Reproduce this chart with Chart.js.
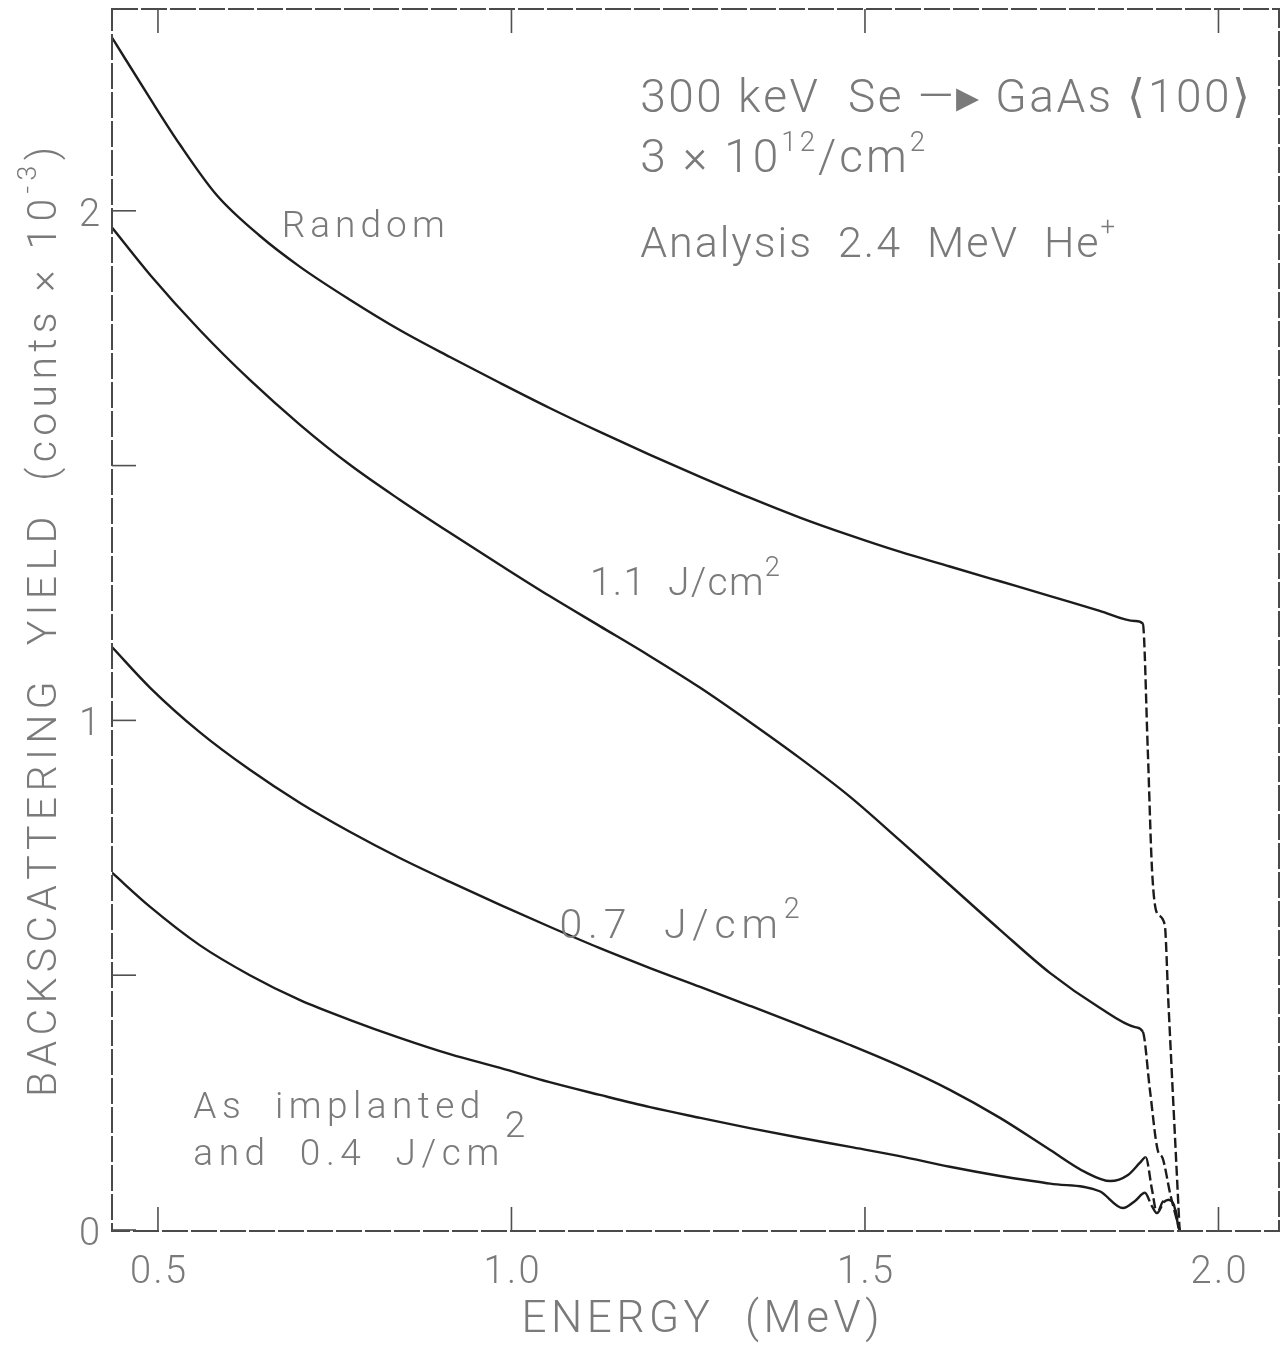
<!DOCTYPE html>
<html>
<head>
<meta charset="utf-8">
<script src="https://cdn.jsdelivr.net/npm/chart.js@4.4.0/dist/chart.umd.min.js"></script>
<style>
  html, body { margin: 0; padding: 0; background: #fff; }
  #wrap { width: 1288px; height: 1345px; position: relative; }
</style>
</head>
<body>
<div id="wrap"><canvas id="chart"></canvas></div>
<script>
// energies in MeV, yields in counts x 10^-3
const randomEnergy = [0.435, 0.489, 0.531, 0.583, 0.644, 0.701, 0.772, 0.842, 0.913, 0.984, 1.054, 1.125, 1.196, 1.267, 1.337, 1.408, 1.479, 1.549, 1.620, 1.691, 1.762, 1.832, 1.882, 1.893, 1.900, 1.906, 1.913, 1.924, 1.929, 1.945];
const randomYield  = [2.340, 2.220, 2.130, 2.031, 1.951, 1.890, 1.825, 1.766, 1.713, 1.662, 1.613, 1.566, 1.521, 1.478, 1.437, 1.398, 1.363, 1.331, 1.302, 1.273, 1.244, 1.215, 1.195, 1.190, 0.942, 0.707, 0.622, 0.599, 0.451, 0.0];

const j11Energy = [0.435, 0.489, 0.559, 0.630, 0.701, 0.772, 0.842, 0.913, 0.984, 1.054, 1.125, 1.196, 1.267, 1.337, 1.408, 1.479, 1.549, 1.620, 1.691, 1.762, 1.832, 1.882, 1.893, 1.903, 1.914, 1.921, 1.932, 1.945];
const j11Yield  = [1.967, 1.874, 1.766, 1.668, 1.580, 1.501, 1.433, 1.368, 1.305, 1.244, 1.185, 1.126, 1.064, 0.997, 0.926, 0.850, 0.765, 0.677, 0.589, 0.504, 0.436, 0.398, 0.389, 0.275, 0.157, 0.141, 0.069, 0.0];

const j07Energy = [0.435, 0.489, 0.559, 0.630, 0.701, 0.772, 0.842, 0.913, 0.984, 1.054, 1.125, 1.196, 1.267, 1.337, 1.408, 1.479, 1.549, 1.620, 1.691, 1.762, 1.811, 1.847, 1.872, 1.889, 1.897, 1.906, 1.913, 1.923, 1.930, 1.937, 1.944];
const j07Yield  = [1.144, 1.064, 0.977, 0.903, 0.838, 0.781, 0.730, 0.683, 0.638, 0.595, 0.553, 0.514, 0.477, 0.440, 0.402, 0.363, 0.322, 0.275, 0.220, 0.157, 0.114, 0.096, 0.108, 0.132, 0.143, 0.079, 0.033, 0.055, 0.059, 0.049, 0.0];

const implEnergy = [0.435, 0.489, 0.559, 0.630, 0.701, 0.772, 0.842, 0.913, 0.984, 1.054, 1.125, 1.196, 1.267, 1.337, 1.408, 1.479, 1.549, 1.620, 1.691, 1.762, 1.832, 1.865, 1.882, 1.896, 1.905, 1.913, 1.921, 1.929, 1.937, 1.945];
const implYield  = [0.701, 0.634, 0.559, 0.500, 0.451, 0.412, 0.377, 0.345, 0.318, 0.290, 0.265, 0.241, 0.220, 0.200, 0.181, 0.163, 0.145, 0.124, 0.106, 0.091, 0.076, 0.043, 0.057, 0.073, 0.049, 0.033, 0.055, 0.059, 0.049, 0.0];

const xTicks = [0.5, 1.0, 1.5, 2.0];
const xTickLabels = ['0.5', '1.0', '1.5', '2.0'];
const yTicks = [0, 0.5, 1, 1.5, 2];
const yTickLabels = ['0', '', '1', '', '2'];

const FONT = "'Roboto', 'DejaVu Sans', sans-serif";
const INK = '#1c1c1c';
const TEXT = '#7a7a7a';

function pts(xs, ys) {
  return xs.map((x, i) => ({ x: x, y: ys[i] }));
}

// dashed from the given point onward (the faded edges in the scan)
function dashAfter(idx) {
  return { borderDash: c => (c.p0DataIndex >= idx ? [10, 4] : undefined) };
}

// draw text runs char by char, stretched to a width like the plotter lettering
function drawRuns(ctx, runs, x, y, size, width, align) {
  const chars = [];
  runs.forEach(r => {
    const s = size * (r.scale || 1);
    const rise = r.sup ? size * (r.rise || 0.45) : 0;
    for (const ch of r.t) chars.push({ ch, s, rise });
  });
  let natural = 0;
  chars.forEach(c => {
    ctx.font = `300 ${c.s}px ${FONT}`;
    c.w = ctx.measureText(c.ch).width;
    natural += c.w;
  });
  if (!width) width = natural;
  const gap = chars.length > 1 ? (width - natural) / (chars.length - 1) : 0;
  let cx = x;
  if (align === 'center') cx = x - width / 2;
  if (align === 'right') cx = x - width;
  chars.forEach(c => {
    ctx.font = `300 ${c.s}px ${FONT}`;
    ctx.fillText(c.ch, cx, y - c.rise);
    cx += c.w + gap;
  });
}

const notes = [
  { e: 1.182, v: 2.194, size: 46, w: 610, runs: [{ t: '300 keV  Se \u2014\u25B8 GaAs \u27E8100\u27E9' }] },
  { e: 1.182, v: 2.077, size: 46, w: 285, runs: [{ t: '3 \u00D7 10' }, { t: '12', sup: true, scale: 0.6, rise: 0.45 }, { t: '/cm' }, { t: '2', sup: true, scale: 0.6, rise: 0.45 }] },
  { e: 1.182, v: 1.910, size: 43, w: 475, runs: [{ t: 'Analysis  2.4  MeV  He' }, { t: '+', sup: true, scale: 0.6, rise: 0.5 }] },
  { e: 0.675, v: 1.949, size: 37, w: 163, runs: [{ t: 'Random' }] },
  { e: 1.111, v: 1.246, size: 39, w: 190, runs: [{ t: '1.1  J/cm' }, { t: '2', sup: true, scale: 0.7, rise: 0.5 }] },
  { e: 1.068, v: 0.572, size: 41, w: 240, runs: [{ t: '0.7  J/cm' }, { t: '2', sup: true, scale: 0.7, rise: 0.5 }] },
  { e: 0.550, v: 0.220, size: 37, w: 287, runs: [{ t: 'As  implanted' }] },
  { e: 0.550, v: 0.128, size: 37, w: 332, runs: [{ t: 'and  0.4  J/cm' }, { t: '2', sup: true, scale: 1.0, rise: 0.75 }] }
];

const paperPlugin = {
  id: 'paper',
  afterDraw(chart) {
    const ctx = chart.ctx;
    const xs = chart.scales.x, ys = chart.scales.y;
    const a = chart.chartArea;
    ctx.save();

    // frame
    ctx.strokeStyle = '#4a4a4a';
    ctx.lineWidth = 2;
    ctx.setLineDash([26, 3]);
    ctx.strokeRect(a.left, a.top, a.right - a.left, a.bottom - a.top);
    ctx.setLineDash([]);

    // inward ticks
    ctx.lineWidth = 1.6;
    ctx.strokeStyle = '#505050';
    xTicks.forEach(t => {
      const p = xs.getPixelForValue(t);
      ctx.beginPath();
      ctx.moveTo(p, a.bottom); ctx.lineTo(p, a.bottom - 24);
      ctx.moveTo(p, a.top); ctx.lineTo(p, a.top + 24);
      ctx.stroke();
    });
    yTicks.forEach(t => {
      const p = ys.getPixelForValue(t);
      ctx.beginPath();
      ctx.moveTo(a.left, p); ctx.lineTo(a.left + 24, p);
      ctx.stroke();
    });

    ctx.fillStyle = TEXT;
    ctx.textBaseline = 'alphabetic';

    // tick labels
    xTicks.forEach((t, i) => {
      drawRuns(ctx, [{ t: xTickLabels[i] }], xs.getPixelForValue(t), a.bottom + 52, 38, 56, 'center');
    });
    yTicks.forEach((t, i) => {
      if (!yTickLabels[i]) return;
      drawRuns(ctx, [{ t: yTickLabels[i] }], 100, ys.getPixelForValue(t) + 15, 38, 0, 'right');
    });

    // axis titles
    drawRuns(ctx, [{ t: 'ENERGY  (MeV)' }], (a.left + a.right) / 2 + 5, a.bottom + 101, 44, 358, 'center');
    ctx.save();
    ctx.translate(56, 622);
    ctx.rotate(-Math.PI / 2);
    drawRuns(ctx, [{ t: 'BACKSCATTERING  YIELD  (counts \u00D7 10' }, { t: '-3', sup: true, scale: 0.65, rise: 0.5 }, { t: ')' }], 0, 0, 41, 950, 'center');
    ctx.restore();

    // annotations
    notes.forEach(n => {
      drawRuns(ctx, n.runs, xs.getPixelForValue(n.e), ys.getPixelForValue(n.v), n.size, n.w, 'left');
    });

    ctx.restore();
  }
};

const line = (label, data, dashIdx) => ({
  label: label,
  data: data,
  showLine: true,
  borderColor: INK,
  borderWidth: 2.4,
  pointRadius: 0,
  fill: false,
  cubicInterpolationMode: 'monotone',
  segment: dashAfter(dashIdx)
});

new Chart(document.getElementById('chart'), {
  type: 'scatter',
  data: {
    datasets: [
      line('Random', pts(randomEnergy, randomYield), 23),
      line('1.1 J/cm2', pts(j11Energy, j11Yield), 22),
      line('0.7 J/cm2', pts(j07Energy, j07Yield), 24),
      line('As implanted and 0.4 J/cm2', pts(implEnergy, implYield), 23)
    ]
  },
  options: {
    responsive: true,
    maintainAspectRatio: false,
    animation: false,
    layout: { padding: { left: 112, top: 9, right: 9, bottom: 114 } },
    plugins: { legend: { display: false }, tooltip: { enabled: false } },
    scales: {
      x: { type: 'linear', min: 0.435, max: 2.0856, display: false },
      y: { type: 'linear', min: -0.002, max: 2.396, display: false }
    }
  },
  plugins: [paperPlugin]
});
</script>
</body>
</html>
